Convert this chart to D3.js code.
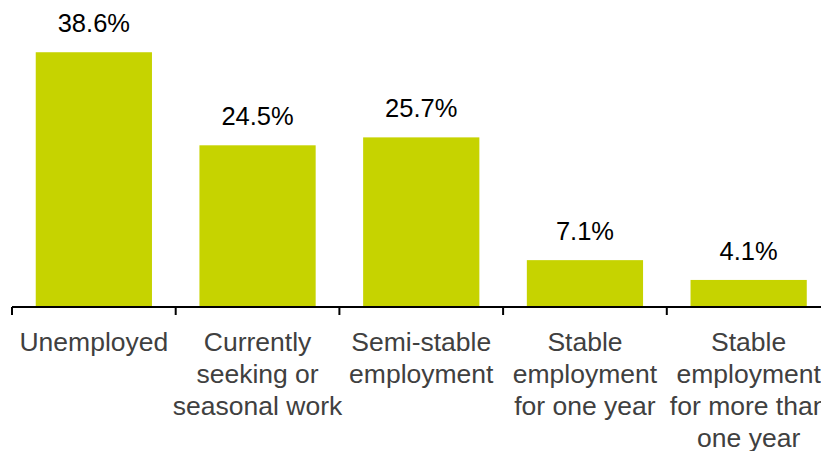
<!DOCTYPE html>
<html>
<head>
<meta charset="utf-8">
<script src="https://cdn.jsdelivr.net/npm/d3@7"></script>
<style>
  html, body { margin: 0; padding: 0; background: #fff; }
  svg { display: block; font-family: "Liberation Sans", Arial, sans-serif; }
</style>
</head>
<body>
<svg id="chart" width="821" height="451"></svg>
<script>
// Employment status shares
const categories = [
  ["Unemployed"],
  ["Currently", "seeking or", "seasonal work"],
  ["Semi-stable", "employment"],
  ["Stable", "employment", "for one year"],
  ["Stable", "employment", "for more than", "one year"]
];
const values = [38.6, 24.5, 25.7, 7.1, 4.1];
const valueLabels = ["38.6%", "24.5%", "25.7%", "7.1%", "4.1%"];

const svg = d3.select("#chart");
const baseY = 307;

const x = d3.scaleBand()
  .domain(d3.range(values.length))
  .range([12, 830.5])
  .paddingInner(0.29)
  .paddingOuter(0.145);

const y = d3.scaleLinear()
  .domain([0, 40])
  .range([baseY, baseY - 264]);

// bars
svg.append("g").selectAll("rect")
  .data(values)
  .join("rect")
  .attr("x", (d, i) => x(i))
  .attr("width", x.bandwidth())
  .attr("y", d => y(d))
  .attr("height", d => baseY - y(d))
  .attr("fill", "#c6d300");

// value labels
svg.append("g").selectAll("text")
  .data(values)
  .join("text")
  .attr("x", (d, i) => x(i) + x.bandwidth() / 2)
  .attr("y", d => y(d) - 20)
  .attr("text-anchor", "middle")
  .attr("font-size", 25.5)
  .attr("fill", "#000")
  .text((d, i) => valueLabels[i]);

// category axis line and tick marks at band boundaries
const step = x.step();
const x0 = 12;
svg.append("line")
  .attr("x1", x0).attr("x2", 821)
  .attr("y1", baseY).attr("y2", baseY)
  .attr("stroke", "#000").attr("stroke-width", 2);

svg.append("g").selectAll("line")
  .data(d3.range(values.length + 1))
  .join("line")
  .attr("x1", i => x0 + i * step).attr("x2", i => x0 + i * step)
  .attr("y1", baseY).attr("y2", baseY + 8)
  .attr("stroke", "#000").attr("stroke-width", 2);

// category labels
const cat = svg.append("g").selectAll("text")
  .data(categories)
  .join("text")
  .attr("text-anchor", "middle")
  .attr("font-size", 26.5)
  .attr("fill", "#404040");

cat.selectAll("tspan")
  .data((d, i) => d.map(line => ({ line, i })))
  .join("tspan")
  .attr("x", d => x(d.i) + x.bandwidth() / 2)
  .attr("y", (d, j) => 351 + j * 32)
  .text(d => d.line);
</script>
</body>
</html>
